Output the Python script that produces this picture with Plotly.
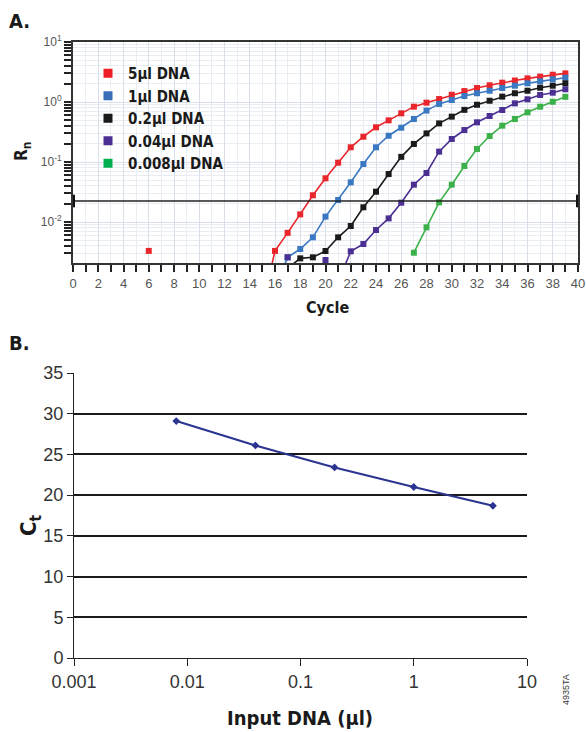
import plotly.graph_objects as go

W, H = 586, 732

# ---------------- Panel A data (Rn vs cycle) ----------------
series_names = ["5µl DNA", "1µl DNA", "0.2µl DNA", "0.04µl DNA", "0.008µl DNA"]
series_colors = ["#e8262b", "#3a78c2", "#1a1a1a", "#4b2f93", "#3cb14a"]
legend_colors = ["#ee1c25", "#3a6fb8", "#1a1a1a", "#4b2f93", "#00b050"]

cycles_5ul = list(range(15, 40))
rn_5ul = [0.0004, 0.0033, 0.0066, 0.0134, 0.0279, 0.0535, 0.0975, 0.176, 0.264, 0.379,
          0.495, 0.648, 0.836, 0.975, 1.12, 1.32, 1.52, 1.71, 1.90, 2.10,
          2.28, 2.48, 2.65, 2.85, 3.0]

cycles_1ul = list(range(16, 40))
rn_1ul = [0.0008, 0.00258, 0.00355, 0.00556, 0.0123, 0.0233, 0.0459, 0.0927, 0.176, 0.274,
          0.373, 0.521, 0.72, 0.93, 1.08, 1.26, 1.40, 1.54, 1.71, 1.87,
          2.05, 2.21, 2.39, 2.54]

cycles_02ul = list(range(17, 40))
rn_02ul = [0.0017, 0.00248, 0.00258, 0.00329, 0.00556, 0.00858, 0.0176, 0.032, 0.063, 0.122,
           0.2, 0.30, 0.44, 0.57, 0.74, 0.90, 1.05, 1.23, 1.40, 1.54,
           1.73, 1.87, 2.05]

cycles_004ul = list(range(21, 40))
rn_004ul = [0.001, 0.00325, 0.0043, 0.00736, 0.0115, 0.021, 0.0419, 0.0656, 0.149, 0.242,
            0.341, 0.459, 0.585, 0.736, 0.95, 1.11, 1.31, 1.43, 1.63]

cycles_0008ul = list(range(27, 40))
rn_0008ul = [0.00308, 0.00816, 0.0213, 0.0419, 0.0858, 0.165, 0.271, 0.403, 0.521, 0.673,
             0.835, 1.01, 1.22]

# isolated (background-noise) readings
noise_cycles_5ul = [6]
noise_rn_5ul = [0.0033]
noise_cycles_004ul = [17, 20]
noise_rn_004ul = [0.00258, 0.00233]

threshold = 0.0224
cycle_range = [0, 40]
rn_log_range = [-2.683, 1]

rn_tickvals = [0.01, 0.1, 1, 10]
rn_ticktext = ["10<sup>-2</sup>", "10<sup>-1</sup>", "10<sup>0</sup>", "10<sup>1</sup>"]

# ---------------- Panel B data (Ct vs input DNA) ----------------
input_dna = [0.008, 0.04, 0.2, 1, 5]
ct_values = [29.1, 26.1, 23.4, 21.0, 18.7]
dna_tickvals = [0.001, 0.01, 0.1, 1, 10]
dna_ticktext = ["0.001", "0.01", "0.1", "1", "10"]
ct_range = [0, 35]

BOLD = "DejaVu Sans Condensed, Liberation Sans Narrow, Arial Narrow, sans-serif"
REG = "Liberation Sans, Arial, Helvetica, sans-serif"

fig = go.Figure()

all_x = [cycles_5ul, cycles_1ul, cycles_02ul, cycles_004ul, cycles_0008ul]
all_y = [rn_5ul, rn_1ul, rn_02ul, rn_004ul, rn_0008ul]

for name, col, xs, ys in zip(series_names, series_colors, all_x, all_y):
    fig.add_trace(go.Scatter(
        x=xs, y=ys, mode="lines+markers", name=name, showlegend=False,
        line=dict(color=col, width=1.6),
        marker=dict(symbol="square", size=6, color=col),
        xaxis="x", yaxis="y"))

fig.add_trace(go.Scatter(x=noise_cycles_5ul, y=noise_rn_5ul, mode="markers", showlegend=False,
                         marker=dict(symbol="square", size=6, color=series_colors[0]),
                         xaxis="x", yaxis="y"))
fig.add_trace(go.Scatter(x=noise_cycles_004ul, y=noise_rn_004ul, mode="markers", showlegend=False,
                         marker=dict(symbol="square", size=6, color=series_colors[3]),
                         xaxis="x", yaxis="y"))

# threshold line with end ticks
fig.add_trace(go.Scatter(x=cycle_range, y=[threshold, threshold], mode="lines+markers",
                         showlegend=False, line=dict(color="#222", width=1.6),
                         marker=dict(symbol="line-ns", size=9, line=dict(width=4, color="#111")),
                         xaxis="x", yaxis="y", cliponaxis=False))

# legend entries (markers only)
for name, lcol in zip(series_names, legend_colors):
    fig.add_trace(go.Scatter(x=[None], y=[None], mode="markers", name=name,
                             marker=dict(symbol="square", size=9, color=lcol),
                             xaxis="x", yaxis="y"))

# Panel B
fig.add_trace(go.Scatter(x=input_dna, y=ct_values, mode="lines+markers", showlegend=False,
                         line=dict(color="#2b3491", width=2.2),
                         marker=dict(symbol="diamond", size=6, color="#2b3491"),
                         xaxis="x2", yaxis="y2"))

fig.update_layout(
    width=W, height=H,
    margin=dict(l=0, r=0, t=0, b=0, pad=0, autoexpand=False),
    paper_bgcolor="white", plot_bgcolor="white",
    showlegend=True,
    legend=dict(x=88 / W, y=1 - 57 / H, xanchor="left", yanchor="top",
                bgcolor="rgba(0,0,0,0)", font=dict(family=BOLD, size=15, color="#1a1a1a", weight="bold"),
                itemwidth=30, tracegroupgap=0),
    xaxis=dict(domain=[73 / W, 578 / W], range=cycle_range, anchor="y", automargin=False,
               tickmode="linear", tick0=0, dtick=2,
               ticks="outside", ticklen=7, tickwidth=2, tickcolor="#222",
               tickfont=dict(family=REG, size=13, color="#555"),
               showgrid=True, gridcolor="#d9dfe8", gridwidth=1,
               minor=dict(dtick=1, ticks="outside", ticklen=7, tickwidth=2, tickcolor="#222",
                          showgrid=True, gridcolor="#e9edf3"),
               showline=True, linecolor="#333", linewidth=2, mirror=True, zeroline=False),
    yaxis=dict(domain=[1 - 263 / H, 1 - 42 / H], type="log", range=rn_log_range, anchor="x",
               automargin=False,
               tickmode="array", tickvals=rn_tickvals, ticktext=rn_ticktext,
               ticks="outside", ticklen=7, tickwidth=2, tickcolor="#222",
               tickfont=dict(family=REG, size=12, color="#555"),
               showgrid=True, gridcolor="#d9dfe8",
               minor=dict(dtick="D1", ticks="outside", ticklen=7, tickwidth=2, tickcolor="#222",
                          showgrid=True, gridcolor="#e9edf3"),
               showline=True, linecolor="#333", linewidth=2, mirror=True, zeroline=False),
    xaxis2=dict(domain=[74 / W, 527 / W], type="log", range=[-3, 1], anchor="y2", automargin=False,
                tickmode="array", tickvals=dna_tickvals, ticktext=dna_ticktext,
                ticks="outside", ticklen=7, tickwidth=1, tickcolor="#222",
                tickfont=dict(family=REG, size=18, color="#333"),
                showgrid=False, showline=True, linecolor="#222", linewidth=1, zeroline=False),
    yaxis2=dict(domain=[1 - 658 / H, 1 - 373 / H], range=ct_range, anchor="x2", automargin=False,
                tickmode="linear", tick0=0, dtick=5,
                ticks="outside", ticklen=6, tickwidth=1, tickcolor="#222",
                tickfont=dict(family=REG, size=18, color="#333"),
                showgrid=True, gridcolor="#1a1a1a", gridwidth=2,
                showline=True, linecolor="#222", linewidth=1, zeroline=False),
)

ann = []
ann.append(dict(text="<b>A.</b>", x=7 / W, y=1 - 21 / H, xanchor="left", yanchor="middle",
                font=dict(family=BOLD, size=20, color="#1a1a1a")))
ann.append(dict(text="<b>B.</b>", x=7 / W, y=1 - 343 / H, xanchor="left", yanchor="middle",
                font=dict(family=BOLD, size=20, color="#1a1a1a")))
ann.append(dict(text="<b>R<sub>n</sub></b>", x=22 / W, y=1 - 152 / H, textangle=-90,
                xanchor="center", yanchor="middle", font=dict(family=BOLD, size=17, color="#1a1a1a")))
ann.append(dict(text="<b>Cycle</b>", x=327 / W, y=1 - 307 / H, xanchor="center", yanchor="middle",
                font=dict(family=BOLD, size=16, color="#1a1a1a")))
ann.append(dict(text="<b>C<sub>t</sub></b>", x=30 / W, y=1 - 525 / H, textangle=-90,
                xanchor="center", yanchor="middle", font=dict(family=BOLD, size=22, color="#1a1a1a")))
ann.append(dict(text="<b>Input DNA (µl)</b>", x=300 / W, y=1 - 718 / H, xanchor="center", yanchor="middle",
                font=dict(family=BOLD, size=20, color="#1a1a1a")))
ann.append(dict(text="4935TA", x=566 / W, y=1 - 690 / H, textangle=-90, xanchor="center", yanchor="middle",
                font=dict(family=REG, size=9, color="#333")))
for a in ann:
    a.update(xref="paper", yref="paper", showarrow=False)
fig.update_layout(annotations=ann)

fig.write_html("out.html", config={"displayModeBar": False},
               post_script="document.body.style.margin='0px';")
